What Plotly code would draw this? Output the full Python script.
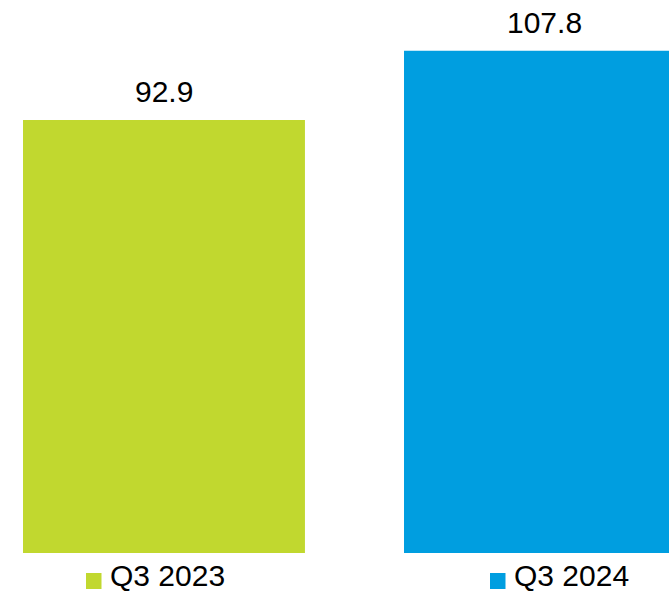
import plotly.graph_objects as go

categories = ["Q3 2023", "Q3 2024"]
values = [92.9, 107.8]
labels = ["92.9", "107.8"]
colors = ["#C1D82F", "#009EE0"]

W, H = 669, 593
FONT = "Liberation Sans, Arial, sans-serif"
FS = 30
PX_PER_UNIT = 4.66
BASE_PX = 553  # pixel row of value 0

fig = go.Figure()
xs = list(range(len(categories)))
fig.add_trace(go.Bar(
    x=xs, y=values, width=0.74, name="",
    marker=dict(color=colors, line=dict(width=0)),
    showlegend=False, hoverinfo="skip",
))

# value labels
for xi, v, t in zip(xs, values, labels):
    fig.add_annotation(x=xi, y=v, text=t, showarrow=False, yanchor="bottom",
                       yshift=10, font=dict(size=FS, color="#000000", family=FONT))

# legend (square swatch + label) under each bar
legend_sq_left = [86, 490]
for name, c, lx in zip(categories, colors, legend_sq_left):
    fig.add_shape(type="rect", xref="paper", yref="paper",
                  x0=lx / W, x1=(lx + 15.5) / W,
                  y0=(H - 589) / H, y1=(H - 573) / H,
                  fillcolor=c, line=dict(width=0))
    fig.add_annotation(xref="paper", yref="paper", x=(lx + 23) / W, y=0,
                       xanchor="left", yanchor="bottom", text=name, showarrow=False,
                       borderpad=0, font=dict(size=FS, color="#000000", family=FONT))

fig.update_layout(
    width=W, height=H,
    margin=dict(l=0, r=0, t=0, b=0, pad=0),
    paper_bgcolor="white", plot_bgcolor="white",
    font=dict(family=FONT, size=FS, color="#000000"),
    xaxis=dict(range=[-0.4304, 1.3255], visible=False, fixedrange=True),
    yaxis=dict(range=[-(H - BASE_PX) / PX_PER_UNIT, BASE_PX / PX_PER_UNIT],
               visible=False, fixedrange=True),
    showlegend=False,
)

fig.write_html("out.html", config={"displayModeBar": False},
               post_script="document.body.style.margin='0px';")
